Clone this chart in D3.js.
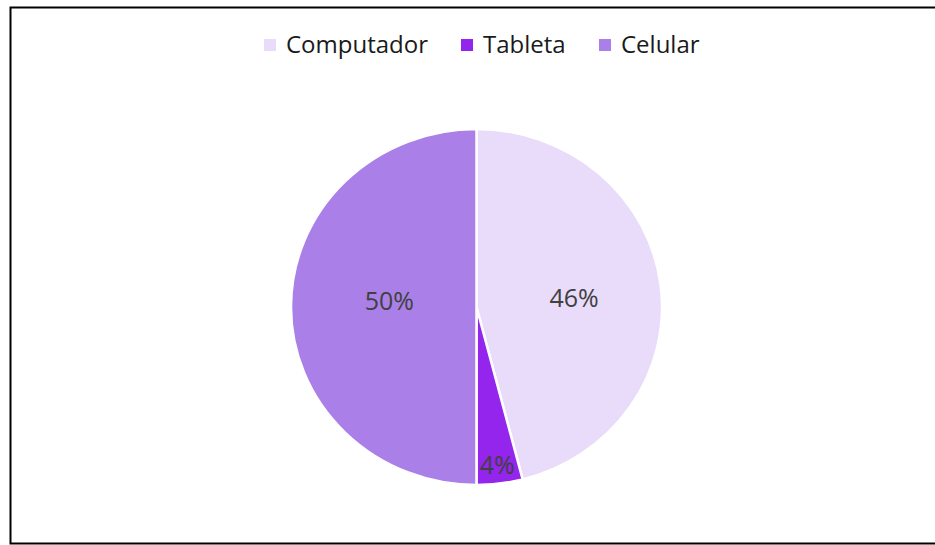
<!DOCTYPE html>
<html>
<head>
<meta charset="utf-8">
<script src="https://cdn.jsdelivr.net/npm/d3@7"></script>
<style>
  html, body { margin: 0; padding: 0; background: #fff; }
  svg { display: block; font-family: "Open Sans", "Noto Sans", sans-serif; }
</style>
</head>
<body>
<div id="chart"></div>
<script>
// Device share pie
const categories = ["Computador", "Tableta", "Celular"];
const values = [46, 4, 50];
const colors = ["#E9DBFA", "#9325EC", "#AA80E8"];
const labelRadius = [0.53, 0.89, 0.47]; // fraction of radius where label sits
const labelDy = [2, 0, -7];             // small vertical nudges to match placement

const width = 935, height = 545;
const cx = 476.5, cy = 307;
const ry = 178, sx = 185.5 / 178; // slight horizontal stretch like the reference

const svg = d3.select("#chart").append("svg")
    .attr("width", width)
    .attr("height", height);

// Outer frame (right side runs off the image)
svg.append("path")
    .attr("d", `M${width + 5},7.5 H10.5 V543.5 H${width + 5}`)
    .attr("fill", "none")
    .attr("stroke", "#000")
    .attr("stroke-width", 2);

const pie = d3.pie().sort(null).value(d => d.value);
const arcs = pie(categories.map((c, i) => ({ name: c, value: values[i], i })));
const arc = d3.arc().innerRadius(0).outerRadius(ry);

const g = svg.append("g")
    .attr("transform", `translate(${cx},${cy}) scale(${sx},1)`);

g.selectAll("path")
    .data(arcs)
    .enter().append("path")
    .attr("d", arc)
    .attr("fill", d => colors[d.data.i])
    .attr("stroke", "#fff")
    .attr("stroke-width", 2.5)
    .attr("vector-effect", "non-scaling-stroke");

// Data labels
const total = d3.sum(values);
const labelPos = d => {
    const r = ry * labelRadius[d.data.i];
    const c = d3.arc().innerRadius(r).outerRadius(r).centroid(d);
    return [cx + sx * c[0], cy + c[1] + labelDy[d.data.i]];
};
svg.selectAll(".slice-label")
    .data(arcs)
    .enter().append("text")
    .attr("class", "slice-label")
    .attr("x", d => labelPos(d)[0])
    .attr("y", d => labelPos(d)[1])
    .attr("text-anchor", "middle")
    .attr("dominant-baseline", "central")
    .attr("font-size", 25)
    .attr("fill", "#404040")
    .text(d => `${Math.round(d.data.value / total * 100)}%`);

// Legend
const legendX = [264, 461, 599];
const legend = svg.append("g").attr("class", "legend");
categories.forEach((c, i) => {
    legend.append("rect")
        .attr("x", legendX[i])
        .attr("y", 39)
        .attr("width", 12)
        .attr("height", 12)
        .attr("fill", colors[i]);
    legend.append("text")
        .attr("x", legendX[i] + 22)
        .attr("y", 53)
        .attr("font-size", 24)
        .attr("fill", "#1a1a1a")
        .text(c);
});
</script>
</body>
</html>
